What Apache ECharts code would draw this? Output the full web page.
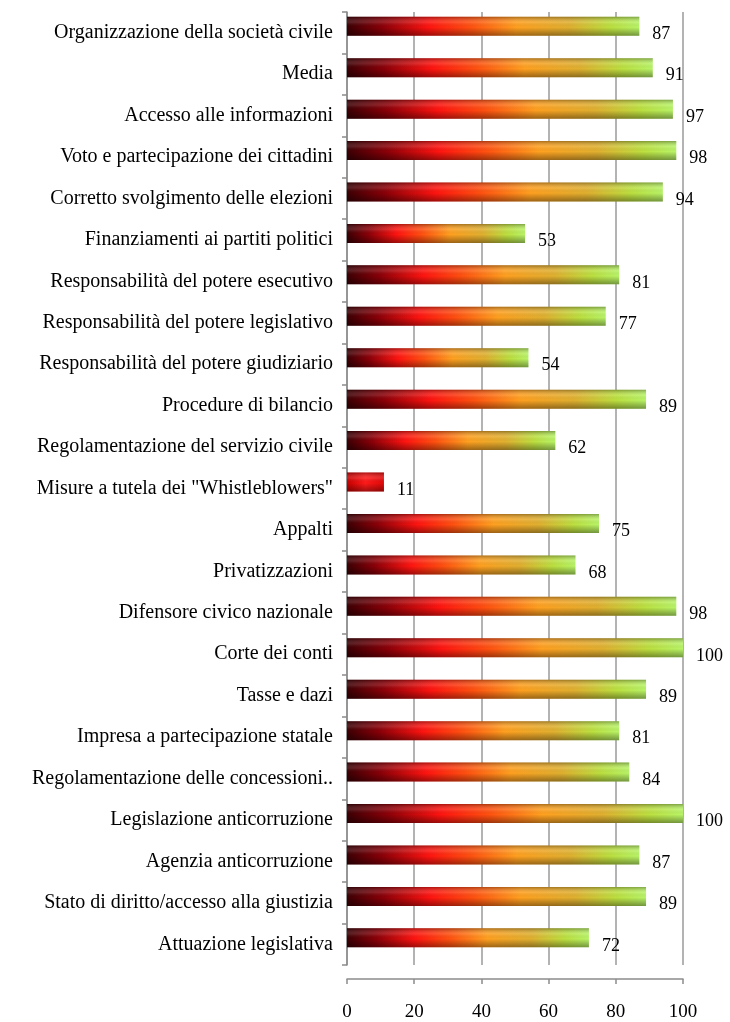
<!DOCTYPE html>
<html>
<head>
<meta charset="utf-8">
<script src="https://cdn.jsdelivr.net/npm/echarts@6/dist/echarts.min.js"></script>
<style>
html,body{margin:0;padding:0;background:#fff;}
#chart{width:730px;height:1022px;}
</style>
</head>
<body>
<div id="chart"></div>
<script>
const categories = [
  "Organizzazione della società civile",
  "Media",
  "Accesso alle informazioni",
  "Voto e partecipazione dei cittadini",
  "Corretto svolgimento delle elezioni",
  "Finanziamenti ai partiti politici",
  "Responsabilità del potere esecutivo",
  "Responsabilità del potere legislativo",
  "Responsabilità del potere giudiziario",
  "Procedure di bilancio",
  "Regolamentazione del servizio civile",
  "Misure a tutela dei \"Whistleblowers\"",
  "Appalti",
  "Privatizzazioni",
  "Difensore civico nazionale",
  "Corte dei conti",
  "Tasse e dazi",
  "Impresa a partecipazione statale",
  "Regolamentazione delle concessioni..",
  "Legislazione anticorruzione",
  "Agenzia anticorruzione",
  "Stato di diritto/accesso alla giustizia",
  "Attuazione legislativa"
];
const values = [87, 91, 97, 98, 94, 53, 81, 77, 54, 89, 62, 11, 75, 68, 98, 100, 89, 81, 84, 100, 87, 89, 72];
const xMin = 0, xMax = 100, xStep = 20;

const FONT = "'Liberation Serif', 'Times New Roman', serif";
const chart = echarts.init(document.getElementById('chart'), null, {renderer: 'canvas'});

function barColor(p) {
  if (p.value < 20) {
    return new echarts.graphic.LinearGradient(0, 0, 1, 0, [
      {offset: 0, color: '#c80000'},
      {offset: 0.5, color: '#ff1a1a'},
      {offset: 1, color: '#e00808'}
    ]);
  }
  return new echarts.graphic.LinearGradient(0, 0, 1, 0, [
    {offset: 0, color: '#3c0004'},
    {offset: 0.12, color: '#8a0008'},
    {offset: 0.28, color: '#ff1410'},
    {offset: 0.42, color: '#ff5010'},
    {offset: 0.58, color: '#ffa020'},
    {offset: 0.76, color: '#e0b030'},
    {offset: 0.9, color: '#bce040'},
    {offset: 1, color: '#b8f468'}
  ]);
}
const shade = new echarts.graphic.LinearGradient(0, 0, 0, 1, [
  {offset: 0, color: 'rgba(0,0,0,0.32)'},
  {offset: 0.3, color: 'rgba(255,255,255,0.12)'},
  {offset: 0.55, color: 'rgba(0,0,0,0)'},
  {offset: 1, color: 'rgba(0,0,0,0.38)'}
]);

const gap = '-32%';
chart.setOption({
  animation: false,
  backgroundColor: '#ffffff',
  grid: {left: 347, right: 47, top: 12, bottom: 56, containLabel: false},
  xAxis: {
    type: 'value', min: xMin, max: xMax, interval: xStep,
    offset: 14,
    axisLine: {show: true, lineStyle: {color: '#8c8c8c', width: 1.5}},
    axisTick: {show: true, length: 5, lineStyle: {color: '#8c8c8c', width: 1.5}},
    splitLine: {show: true, lineStyle: {color: '#9a9a9a', width: 1.5}},
    axisLabel: {margin: 24, color: '#000', fontFamily: FONT, fontSize: 19}
  },
  yAxis: [{
    type: 'category', data: categories, inverse: true,
    axisLine: {show: true, lineStyle: {color: '#8c8c8c', width: 1.5}},
    axisTick: {show: true, length: 5, alignWithLabel: false, lineStyle: {color: '#8c8c8c', width: 1.5}},
    axisLabel: {margin: 14, color: '#000', fontFamily: FONT, fontSize: 20}
  }, {
    type: 'category', data: categories, inverse: true, show: false
  }],
  series: [
    {
      type: 'bar', name: 'score', yAxisIndex: 0, data: values,
      barWidth: 19, barGap: gap,
      itemStyle: {color: barColor},
      label: {show: true, position: 'right', distance: 5, offset: [8, 8],
        color: '#000', fontFamily: FONT, fontSize: 18}
    },
    {type: 'bar', name: 'spacer', yAxisIndex: 0, data: [], barWidth: 19, barGap: gap},
    {
      type: 'bar', name: 'shade', yAxisIndex: 1, data: values,
      barWidth: 19, barGap: gap, silent: true,
      itemStyle: {color: shade}
    },
    {type: 'bar', name: 'spacer2', yAxisIndex: 1, data: [], barWidth: 19, barGap: gap}
  ]
});
</script>
</body>
</html>
